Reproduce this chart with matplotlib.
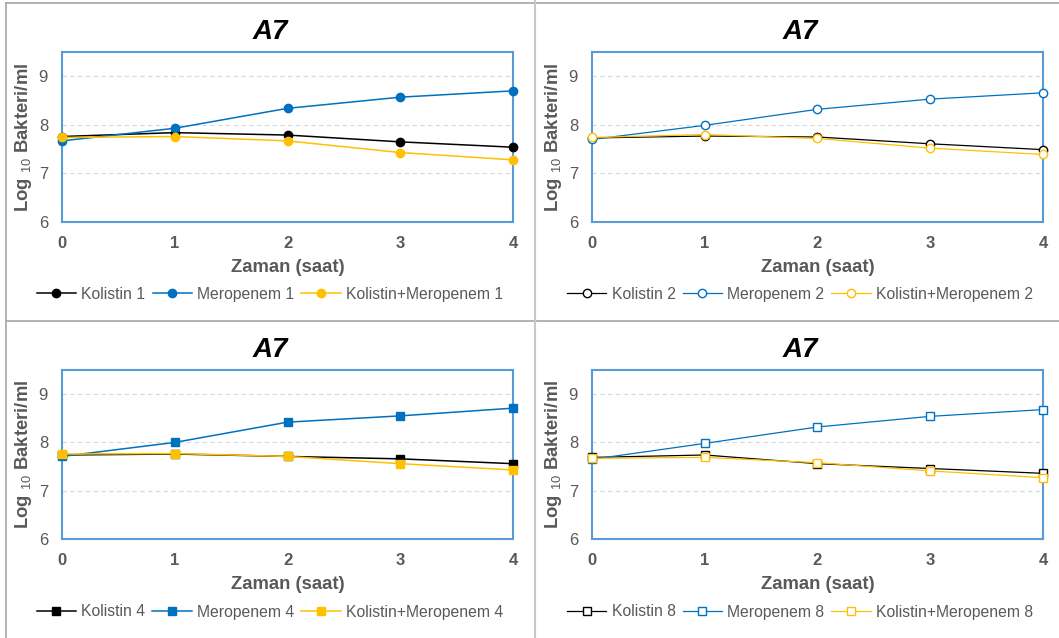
import matplotlib
matplotlib.use("Agg")
import matplotlib.pyplot as plt
from matplotlib.lines import Line2D

plt.rcParams['font.family'] = ['Liberation Sans', 'DejaVu Sans']
plt.rcParams['mathtext.fontset'] = 'custom'
plt.rcParams['mathtext.rm'] = 'Liberation Sans'
plt.rcParams['mathtext.it'] = 'Liberation Sans:italic'
plt.rcParams['mathtext.bf'] = 'Liberation Sans:bold'

# Sampling times (hours)
hours = [0, 1, 2, 3, 4]

# log10 bacteria/ml for each dose level
kolistin_1 = [7.76, 7.84, 7.79, 7.65, 7.54]
meropenem_1 = [7.67, 7.93, 8.34, 8.57, 8.70]
kombine_1 = [7.74, 7.76, 7.67, 7.43, 7.28]

kolistin_2 = [7.73, 7.77, 7.75, 7.61, 7.49]
meropenem_2 = [7.70, 7.99, 8.32, 8.53, 8.66]
kombine_2 = [7.74, 7.80, 7.72, 7.52, 7.39]

kolistin_4 = [7.74, 7.76, 7.71, 7.66, 7.56]
meropenem_4 = [7.71, 8.00, 8.42, 8.55, 8.71]
kombine_4 = [7.76, 7.77, 7.71, 7.56, 7.43]

kolistin_8 = [7.69, 7.74, 7.56, 7.46, 7.36]
meropenem_8 = [7.65, 7.98, 8.32, 8.54, 8.68]
kombine_8 = [7.67, 7.69, 7.58, 7.41, 7.27]

doses = ["1", "2", "4", "8"]
series_by_dose = [
    (kolistin_1, meropenem_1, kombine_1),
    (kolistin_2, meropenem_2, kombine_2),
    (kolistin_4, meropenem_4, kombine_4),
    (kolistin_8, meropenem_8, kombine_8),
]
series_names = ["Kolistin", "Meropenem", "Kolistin+Meropenem"]
panel_title = "A7"
x_label = "Zaman (saat)"
y_label = r"Log $_{10}$ Bakteri/ml"
y_ticks = [6, 7, 8, 9]

W, H = 1059, 638
fig = plt.figure(figsize=(W / 100, H / 100), dpi=100)
fig.patch.set_facecolor("white")

colors = ["#000000", "#0070C0", "#FFC000"]
markers = ["o", "o", "s", "s"]
filled = [True, False, True, False]
gray = "#595959"

# plot-area boxes in pixels: (left, top, right, bottom), chart-area left x, centre x, y offset
panels = [
    (62, 52, 513, 222, 0, 270, 0),
    (592, 52, 1043, 222, 530, 800, 0),
    (62, 370, 513, 539, 0, 270, 318),
    (592, 370, 1043, 539, 530, 800, 318),
]

for i, (l, t, r, b, x0, cx, dy) in enumerate(panels):
    ax = fig.add_axes([l / W, 1 - b / H, (r - l) / W, (b - t) / H])
    handles = []
    for j, vals in enumerate(series_by_dose[i]):
        c = colors[j]
        face = c if filled[i] else "white"
        lw = 1.1 if filled[i] else 0.9
        ln, = ax.plot(hours, vals, color=c, lw=lw, marker=markers[i],
                      markersize=6.0 if markers[i] == "o" else 5.8,
                      markerfacecolor=face, markeredgecolor=c,
                      markeredgewidth=1.0, clip_on=False, zorder=3 + j,
                      label=f"{series_names[j]} {doses[i]}")
        handles.append(ln)
    ax.set_xlim(0, 4)
    ax.set_ylim(6, 9.5)
    ax.set_xticks(hours)
    ax.set_yticks(y_ticks)
    ax.tick_params(length=0, labelcolor=gray, labelsize=12)
    ax.tick_params(axis="y", pad=10)
    ax.tick_params(axis="x", pad=10)
    for lab in ax.get_xticklabels():
        lab.set_fontweight("bold")
    for yv in [7, 8, 9]:
        ax.axhline(yv, color="#D9D9D9", lw=0.8, ls=(0, (4, 3)), zorder=1)
    for sp in ax.spines.values():
        sp.set_color("#5B9BD5")
        sp.set_linewidth(1.5)
    ax.set_xlabel(x_label, fontsize=13.3, fontweight="bold", color=gray, labelpad=6)
    ax.set_ylabel(y_label, fontsize=13.3, fontweight="bold", color=gray)
    ax.yaxis.set_label_coords((x0 + 34 - l) / (r - l), 0.5)
    fig.text(cx / W, 1 - (32 + dy) / H, panel_title, fontsize=20,
             fontweight="bold", fontstyle="italic", ha="center", va="center")
    fig.legend(handles=handles, loc="center",
               bbox_to_anchor=(cx / W, 1 - (294 + dy) / H), ncol=3,
               frameon=False, fontsize=11.3, labelcolor=gray,
               handlelength=2.5, handletextpad=0.35, columnspacing=0.45,
               borderaxespad=0, borderpad=0)

# chart-area separators
fig.add_artist(Line2D([6 / W, 1], [1 - 3 / H, 1 - 3 / H], color="#A6A6A6", lw=1.2))
fig.add_artist(Line2D([6 / W, 6 / W], [0, 1 - 3 / H], color="#A6A6A6", lw=1.2))
fig.add_artist(Line2D([6 / W, 1], [1 - 321 / H, 1 - 321 / H], color="#A6A6A6", lw=1.2))
fig.add_artist(Line2D([535 / W, 535 / W], [0, 1], color="#C8C8C8", lw=1.5))

fig.savefig("out.png", dpi=100, facecolor="white")
